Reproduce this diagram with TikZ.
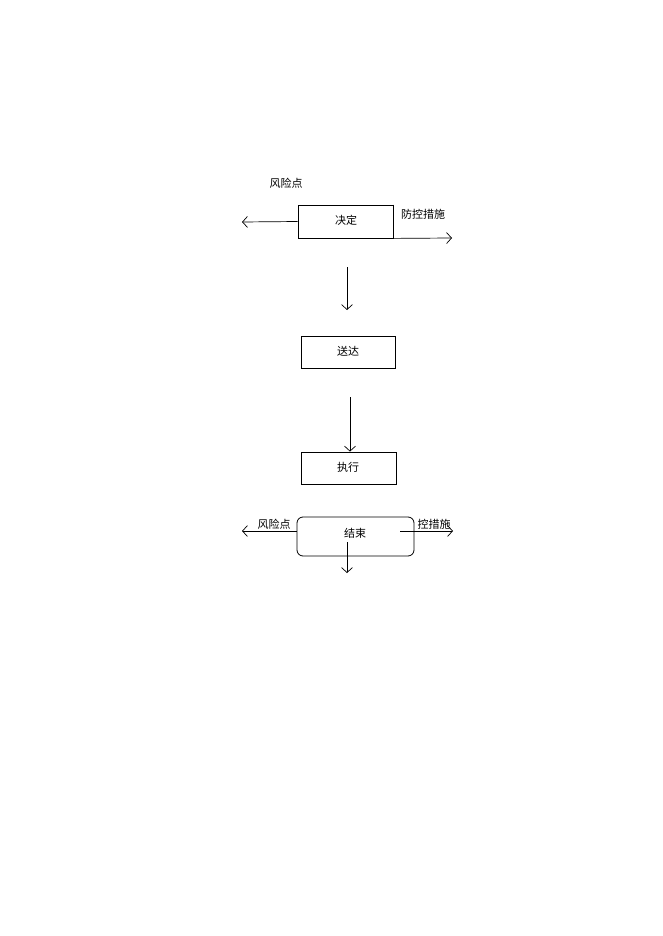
\documentclass[tikz,border=0pt]{standalone}
\usepackage{fontspec}
\setmainfont{Noto Sans CJK SC}
\usetikzlibrary{arrows.meta}
\begin{document}
\begin{tikzpicture}[x=1pt,y=-1pt,
  box/.style={draw,line width=0.8pt,inner sep=0pt},
  lbl/.style={inner sep=0pt,font=\fontsize{11}{13}\selectfont},
  arr/.style={line width=0.7pt,-{Straight Barb[length=5pt,width=11pt]}}]
\useasboundingbox (0,0) rectangle (662,936);
% boxes
\node[box,minimum width=95pt,minimum height=33pt] (jd) at (345.5,221.5) {};
\draw[line width=1.6pt] (jd.north east) -- (jd.south east);
\node[lbl] (jdt) at (346,220) {决定};
\node[box,minimum width=94pt,minimum height=32pt] (sd) at (348,352) {};
\node[lbl] (sdt) at (348,351) {送达};
\node[box,minimum width=95pt,minimum height=32pt] (zx) at (348.5,468) {};
\node[lbl] (zxt) at (348,467) {执行};
\node[box,rounded corners=6pt,minimum width=117pt,minimum height=39pt] (js) at (355.5,536.5) {};
\node[lbl] (jst) at (355,533) {结束};
% labels
\node[lbl] (fx1) at (286,183) {风险点};
\node[lbl] (fk1) at (423,214) {防控措施};
\node[lbl] (fx2) at (274,524) {风险点};
\node[lbl] (fk2) at (434,524) {控措施};
% connectors
\coordinate (l1) at (242,222);
\draw[arr] (jd.west) -- (l1);
\coordinate (r1) at (452,238);
\draw[arr] (jd.south east) -- (r1);
\coordinate (d1) at (347,267);
\coordinate (d2) at (347,310);
\draw[arr] (d1) -- (d2);
\coordinate (a3) at (350,397);
\draw[arr] (a3) -- (a3 |- zx.north);
\coordinate (l4) at (242,531);
\draw[arr] (js.west |- l4) -- (l4);
\coordinate (r4s) at (400,531);
\coordinate (r4) at (453,531);
\draw[arr] (r4s) -- (r4);
\coordinate (d5s) at (347,542);
\coordinate (d5) at (347,573);
\draw[arr] (d5s) -- (d5);
\end{tikzpicture}
\end{document}
